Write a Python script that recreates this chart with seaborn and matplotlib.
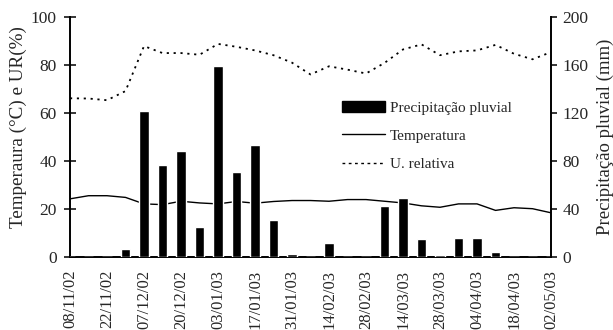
import matplotlib
matplotlib.use("Agg")
import matplotlib.pyplot as plt
import numpy as np
import pandas as pd
import seaborn as sns
from matplotlib.lines import Line2D
from matplotlib.patches import Patch

# 27 semanas de coleta (08/11/02 a 02/05/03), rótulo a cada duas
tick_labels = ["08/11/02", "22/11/02", "07/12/02", "20/12/02", "03/01/03",
               "17/01/03", "31/01/03", "14/02/03", "28/02/03", "14/03/03",
               "28/03/03", "04/04/03", "18/04/03", "02/05/03"]

# precipitação pluvial (mm), eixo direito
precip = [0, 0, 0, 6.5, 122, 77, 88, 25.5, 159, 71, 93, 31, 2.5, 0,
          12, 0, 0, 43, 49, 15, 2, 16, 16, 4.5, 0, 0, 0]

# temperatura (°C), eixo esquerdo
temperatura = [24.3, 25.6, 25.6, 24.9, 22.2, 21.9, 23.3, 22.6, 22.2, 23.2,
               22.5, 23.2, 23.6, 23.6, 23.3, 24.0, 24.0, 23.3, 22.6, 21.4,
               20.8, 22.2, 22.2, 19.5, 20.6, 20.2, 18.5]

# umidade relativa (%), eixo esquerdo
umidade = [66.1, 66.0, 65.3, 69.1, 87.8, 84.9, 84.9, 84.2, 88.7, 87.5,
           86.0, 84.0, 80.9, 76.0, 79.4, 78.0, 76.4, 80.8, 86.4, 88.5,
           84.0, 85.6, 86.0, 88.3, 84.6, 82.3, 85.3]

semana = np.arange(len(precip))
df = pd.DataFrame({"semana": semana, "precip": precip,
                   "temperatura": temperatura, "umidade": umidade})

sns.set_style("white")
plt.rcParams["font.family"] = ["Liberation Serif", "DejaVu Serif"]

fig = plt.figure(figsize=(6.13, 3.30), dpi=100)
ax = fig.add_axes([0.1142, 0.2203, 0.7847, 0.729])
ax2 = ax.twinx()

sns.barplot(data=df, x="semana", y="precip", color="black", saturation=1,
            width=0.5, ax=ax2)
sns.lineplot(data=df, x="semana", y="temperatura", color="black",
             linewidth=1.0, ax=ax)
sns.lineplot(data=df, x="semana", y="umidade", color="black",
             linewidth=1.3, linestyle=(0, (1.2, 2.6)), ax=ax)

ax.set_xlim(0, len(precip) - 1)
ax.set_ylim(0, 100)
ax2.set_ylim(0, 200)
ax.set_yticks(range(0, 101, 20))
ax2.set_yticks(range(0, 201, 40))
ax.set_xticks(semana)
ax.set_xticklabels([tick_labels[i // 2] if i % 2 == 0 else "" for i in semana],
                   rotation=90, fontsize=12)
ax.tick_params(axis="x", direction="out", length=4, width=1.3, pad=5)
ax.tick_params(axis="y", direction="inout", length=9, width=1.3, labelsize=12.5, pad=5)
ax2.tick_params(axis="y", direction="out", length=4, width=1.3, labelsize=12.5, pad=4)
ax2.tick_params(axis="x", bottom=False, top=False)

ax.set_xlabel("")
ax2.set_xlabel("")
ax.set_ylabel("Temperaura (°C) e UR(%)", fontsize=13.8)
ax2.set_ylabel("Precipitação pluvial (mm)", fontsize=13.5)
ax.yaxis.set_label_coords(-0.09, 0.54)
ax2.yaxis.set_label_coords(1.094, 0.5)

for a in (ax, ax2):
    a.spines["top"].set_visible(False)
    for s in ("left", "right", "bottom"):
        a.spines[s].set_linewidth(1.4)
        a.spines[s].set_color("black")
ax.spines["right"].set_visible(False)
ax2.spines["left"].set_visible(False)
ax2.spines["bottom"].set_visible(False)

handles = [
    Patch(facecolor="black", edgecolor="black"),
    Line2D([], [], color="black", linewidth=1.0),
    Line2D([], [], color="black", linewidth=1.0, linestyle=(0, (2, 2.5))),
]
ax2.legend(handles, ["Precipitação pluvial", "Temperatura", "U. relativa"],
           loc="upper left", bbox_to_anchor=(0.565, 0.65), frameon=False,
           fontsize=11, handlelength=2.8, handletextpad=0.35,
           labelspacing=0.95, borderaxespad=0, borderpad=0)

fig.savefig("out.png", dpi=100)
